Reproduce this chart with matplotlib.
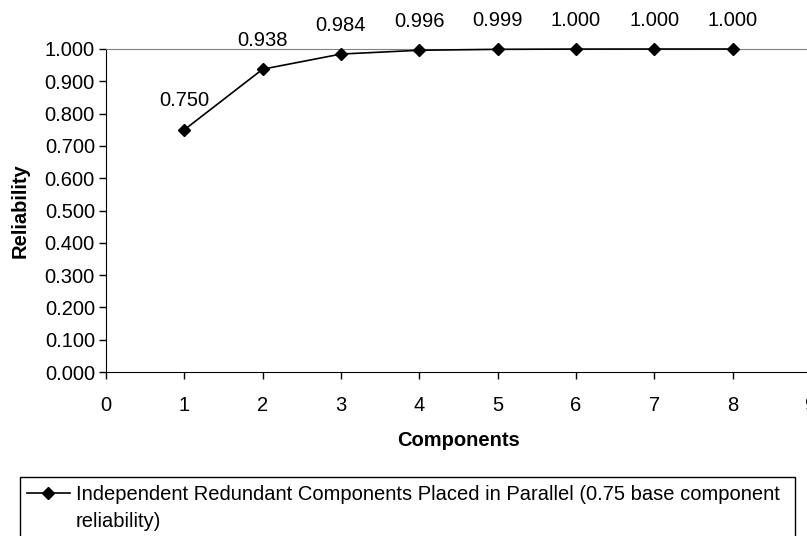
import numpy as np
import matplotlib
matplotlib.use("Agg")
import matplotlib.pyplot as plt
from matplotlib.patches import Rectangle
from matplotlib.lines import Line2D

# -----------------------------
# DATA
# -----------------------------
components = [1, 2, 3, 4, 5, 6, 7, 8]
reliability = [0.750, 0.9375, 0.984375, 0.99609, 0.99902, 0.99976, 0.99994, 0.99998]
series_label = ("Independent Redundant Components Placed in Parallel (0.75 base component\n"
                "reliability)")

plt.rcParams['font.family'] = ['Liberation Sans', 'DejaVu Sans']
FS = 14.5

W, H = 807, 536
fig = plt.figure(figsize=(W / 100, H / 100), dpi=100)


def fx(x):
    return x / W


def fy(y):
    return 1 - y / H


# axes placed in pixel terms; right end runs past the figure edge like the original
left, right, top, bottom = 106, 811, 49, 372
ax = fig.add_axes([fx(left), fy(bottom), (right - left) / W, (bottom - top) / H])

ax.plot(components, reliability, color='black', lw=1.2, marker='D', ms=6.5,
        clip_on=False, zorder=3)

for x, y in zip(components, reliability):
    ax.annotate(f"{y:.3f}", (x, y), xytext=(0, 14), textcoords='offset points',
                ha='center', va='bottom', fontsize=FS, annotation_clip=False)

ax.set_xlim(0, 9)
ax.set_ylim(0, 1.0)
ax.set_xticks(np.arange(0, 10, 1))
ax.set_yticks(np.arange(0, 1.01, 0.1))
ax.set_yticklabels([f"{v:.3f}" for v in np.arange(0, 1.01, 0.1)])
ax.tick_params(axis='both', labelsize=FS, direction='out', length=5, width=1, color='black')
ax.tick_params(axis='x', pad=12)
ax.tick_params(axis='y', pad=3)

ax.spines['top'].set_color('#808080')
ax.spines['right'].set_visible(False)
ax.spines['left'].set_color('black')
ax.spines['bottom'].set_color('black')

ax.set_xlabel("Components", fontsize=FS, fontweight='bold', labelpad=12)
ax.set_ylabel("Reliability", fontsize=FS, fontweight='bold', labelpad=11)

# -----------------------------
# LEGEND (drawn by hand: handle sits on the first text line)
# -----------------------------
box = Rectangle((fx(20), fy(545)), fx(795) - fx(20), fy(477) - fy(545),
                transform=fig.transFigure, facecolor='white', edgecolor='black',
                lw=1, clip_on=False)
fig.add_artist(box)
fig.add_artist(Line2D([fx(27), fx(70)], [fy(493), fy(493)], color='black', lw=1.2,
                      transform=fig.transFigure))
fig.add_artist(Line2D([fx(48)], [fy(493)], color='black', marker='D', ms=6.5,
                      transform=fig.transFigure))
# baseline of the last line
fig.text(fx(76), fy(527), series_label, fontsize=FS, ha='left', va='baseline',
         linespacing=1.55)

fig.savefig("out.png", dpi=100)
